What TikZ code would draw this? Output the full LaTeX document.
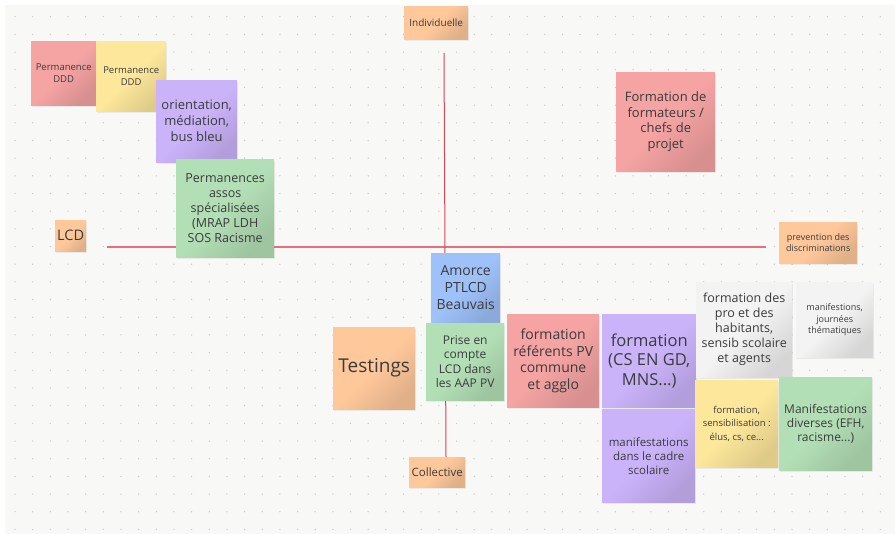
\documentclass[tikz,border=0pt]{standalone}
\usepackage{fontspec}
\setmainfont{Open Sans}
\usetikzlibrary{shadows,backgrounds}
\definecolor{canvas}{HTML}{F8F8F6}
\definecolor{dotc}{HTML}{C9C9C7}
\definecolor{axisred}{HTML}{E6707B}
\definecolor{axisredv}{HTML}{DA4552}
\definecolor{txt}{HTML}{3B3B3B}
\definecolor{sred}{HTML}{F5A3A3}
\definecolor{syellow}{HTML}{FDE79B}
\definecolor{spurple}{HTML}{CBB3FA}
\definecolor{sgreen}{HTML}{B3DFB6}
\definecolor{sorange}{HTML}{FFC89B}
\definecolor{sblue}{HTML}{9EC1F9}
\definecolor{sgray}{HTML}{F3F3F3}
\tikzset{
  sticky/.style={rectangle, anchor=north west, inner sep=0pt, align=center,
    text=txt, top color=#1, bottom color=#1!88!black, middle color=#1,
    shading angle=45,
    drop shadow={shadow xshift=0.8pt, shadow yshift=-1.5pt, opacity=0.12}},
  sz/.style n args={2}{minimum width=#1pt, minimum height=#2pt},
  fnt/.style n args={2}{font=\fontsize{#1}{#2}\selectfont},
  axisline/.style={draw=axisred, line width=1.3pt},
  axislinev/.style={draw=axisredv, line width=1pt}
}
\begin{document}
\begin{tikzpicture}[x=1pt,y=-1pt]
\useasboundingbox (0,0) rectangle (895,534);
% stickies
\node[sticky=sred, sz={65}{64}, fnt={9.5}{12}] (ddda) at (31,41) {Permanence\\DDD};
\node[sticky=syellow, sz={70}{70}, fnt={9.5}{12}] (dddb) at (96,41) {Permanence\\DDD};
\node[sticky=spurple, sz={81}{82}, fnt={13}{16}] (orient) at (156,80) {orientation,\\médiation,\\bus bleu};
\node[sticky=sgreen, sz={98}{98}, fnt={12.5}{15}] (perm) at (176,159) {Permanences\\assos\\spécialisées\\(MRAP LDH\\SOS Racisme};
\node[sticky=sorange, sz={31}{31}, fnt={14.5}{16}] (lcd) at (55,220) {LCD};
\node[sticky=sorange, sz={64}{33}, fnt={10}{12}] (indiv) at (404,6) {Individuelle};
\node[sticky=sred, sz={99}{99}, fnt={13}{15.7}] (formform) at (616,72) {Formation de\\formateurs /\\chefs de\\projet};
\node[sticky=sorange, sz={78}{41}, fnt={9}{11}] (prev) at (779,222) {prevention des\\discriminations};
\node[sticky=sblue, sz={69}{69}, fnt={14}{16.7}] (amorce) at (431,253) {Amorce\\PTLCD\\Beauvais};
\node[sticky=sgreen, sz={78}{77}, fnt={12}{14.5}] (prise) at (426,323) {Prise en\\compte\\LCD dans\\les AAP PV};
\node[sticky=sred, sz={92}{93}, fnt={14}{16.7}] (fref) at (507,314) {formation\\référents PV\\commune\\et agglo};
\node[sticky=sorange, sz={82}{82}, fnt={19}{22}] (testings) at (333,327) {Testings};
\node[sticky=sorange, sz={56}{30}, fnt={11.5}{13}] (coll) at (409,457) {Collective};
\node[sticky=spurple, sz={94}{93}, fnt={16.5}{19.5}] (formcs) at (602,314) {formation\\(CS EN GD,\\MNS...)};
\node[sticky=spurple, sz={93}{93}, fnt={11.5}{14}] (manifsco) at (602,409) {manifestations\\dans le cadre\\scolaire};
\node[sticky=sgray, sz={96}{95}, fnt={12.5}{15}] (formpro) at (696,282) {formation des\\pro et des\\habitants,\\sensib scolaire\\et agents};
\node[sticky=sgray, sz={77}{75}, fnt={9}{11.7}] (manifjour) at (796,282) {manifestions,\\journées\\thématiques};
\node[sticky=syellow, sz={83}{87}, fnt={9.5}{13.3}] (formsens) at (695,380) {formation,\\sensibilisation :\\élus, cs, ce...};
\node[sticky=sgreen, sz={93}{93}, fnt={12}{14}] (manifdiv) at (779,377) {Manifestations\\diverses (EFH,\\racisme...)};
% axes end points
\coordinate (vtop) at (444,53);
\coordinate (vbot) at (446,457);
\coordinate (hleft) at (107,247);
\coordinate (hright) at (766,247);
\begin{scope}[on background layer]
  \fill[white] (0,0) rectangle (895,534);
  \fill[canvas] (5,5) rectangle (895,534);
  \foreach \i in {0,...,49} {
    \foreach \j in {0,...,29} {
      \fill[dotc] (15+17.66*\i, 16.7+17.68*\j) circle (0.75);
    }
  }
  \draw[axisline] (hleft) -- (hright);
  \draw[axislinev] (vtop) -- (vbot);
\end{scope}
\end{tikzpicture}
\end{document}
